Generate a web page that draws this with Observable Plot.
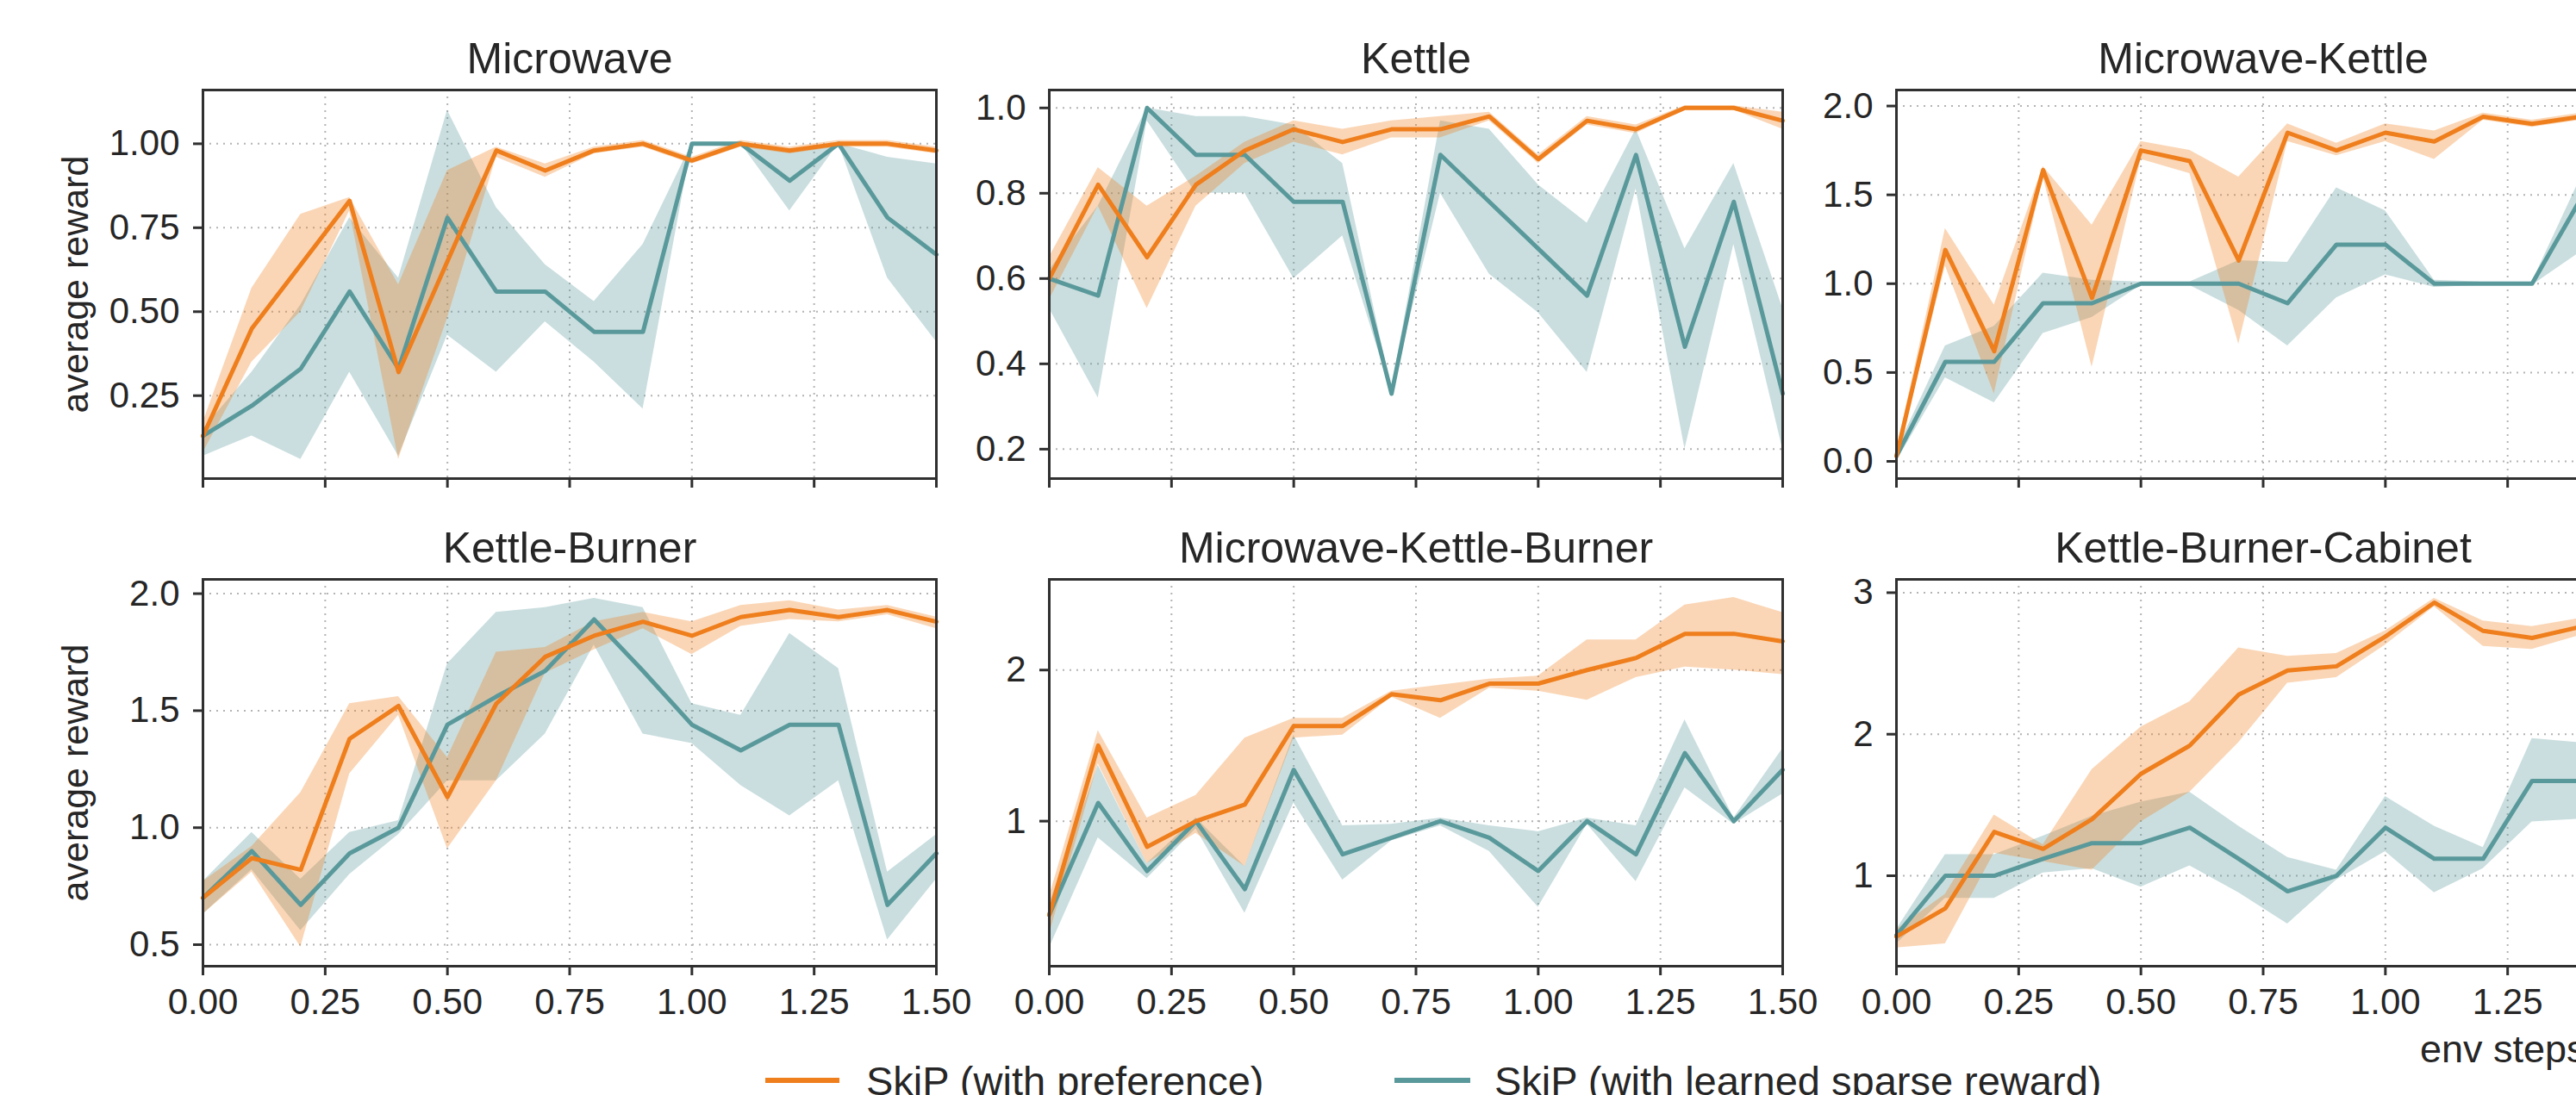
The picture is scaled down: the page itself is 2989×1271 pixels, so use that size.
<!DOCTYPE html>
<html>
<head>
<meta charset="utf-8">
<script src="https://cdn.jsdelivr.net/npm/d3@7"></script>
<script src="https://cdn.jsdelivr.net/npm/@observablehq/plot@0.6"></script>
<style>
  html, body { margin: 0; padding: 0; background: #fff; overflow: hidden; }
  #chart { position: relative; width: 2989px; height: 1271px; overflow: hidden; background: #fff;
           font-family: "Liberation Sans", Arial, sans-serif; color: #262626; }
  #chart svg { position: absolute; max-width: none; }
  .lab { position: absolute; white-space: nowrap; line-height: 1; font-family: "Liberation Sans", Arial, sans-serif; color: #262626; }
  .swatch { position: absolute; height: 6px; }
</style>
</head>
<body>
<div id="chart"></div>
<script>
// ---------- data ----------
const steps  = [0, 0.1, 0.2, 0.3, 0.4, 0.5, 0.6, 0.7, 0.8, 0.9, 1.0, 1.1, 1.2, 1.3, 1.4, 1.5];
const xTicks = [0, 0.25, 0.5, 0.75, 1.0, 1.25, 1.5];
const seriesNames = ["SkiP (with preference)", "SkiP (with learned sparse reward)"];
const titles = ["Microwave", "Kettle", "Microwave-Kettle", "Kettle-Burner", "Microwave-Kettle-Burner", "Kettle-Burner-Cabinet"];

// Microwave
const mwPref     = [0.13, 0.45, 0.64, 0.83, 0.32, 0.65, 0.98, 0.92, 0.98, 1.00, 0.95, 1.00, 0.98, 1.00, 1.00, 0.98];
const mwPrefLo   = [0.08, 0.35, 0.50, 0.80, 0.06, 0.48, 0.96, 0.90, 0.97, 0.99, 0.94, 0.99, 0.97, 0.99, 0.99, 0.97];
const mwPrefHi   = [0.17, 0.57, 0.79, 0.84, 0.58, 0.92, 0.99, 0.94, 0.99, 1.01, 0.96, 1.01, 0.99, 1.01, 1.01, 0.99];
const mwSparse   = [0.13, 0.22, 0.33, 0.56, 0.33, 0.78, 0.56, 0.56, 0.44, 0.44, 1.00, 1.00, 0.89, 1.00, 0.78, 0.67];
const mwSparseLo = [0.07, 0.13, 0.06, 0.32, 0.07, 0.43, 0.32, 0.47, 0.35, 0.21, 1.00, 1.00, 0.80, 1.00, 0.60, 0.41];
const mwSparseHi = [0.15, 0.32, 0.52, 0.78, 0.60, 1.10, 0.81, 0.64, 0.53, 0.70, 1.00, 1.00, 0.98, 1.00, 0.96, 0.94];

// Kettle
const kPref     = [0.60, 0.82, 0.65, 0.82, 0.90, 0.95, 0.92, 0.95, 0.95, 0.98, 0.88, 0.97, 0.95, 1.00, 1.00, 0.97];
const kPrefLo   = [0.55, 0.77, 0.53, 0.77, 0.87, 0.92, 0.89, 0.93, 0.93, 0.97, 0.87, 0.96, 0.94, 0.995, 0.995, 0.95];
const kPrefHi   = [0.65, 0.86, 0.77, 0.84, 0.92, 0.97, 0.95, 0.97, 0.98, 0.99, 0.89, 0.98, 0.96, 1.005, 1.005, 0.99];
const kSparse   = [0.60, 0.56, 1.00, 0.89, 0.89, 0.78, 0.78, 0.33, 0.89, 0.78, 0.67, 0.56, 0.89, 0.44, 0.78, 0.33];
const kSparseLo = [0.53, 0.32, 0.97, 0.80, 0.80, 0.60, 0.70, 0.33, 0.80, 0.61, 0.52, 0.38, 0.81, 0.20, 0.68, 0.20];
const kSparseHi = [0.62, 0.77, 1.00, 0.98, 0.98, 0.96, 0.87, 0.34, 0.97, 0.95, 0.82, 0.73, 0.95, 0.67, 0.87, 0.53];

// Microwave-Kettle
const mkPref     = [0.03, 1.19, 0.62, 1.64, 0.92, 1.75, 1.69, 1.13, 1.85, 1.75, 1.85, 1.80, 1.94, 1.90, 1.94, 1.93];
const mkPrefLo   = [0.00, 1.10, 0.38, 1.60, 0.53, 1.70, 1.62, 0.66, 1.80, 1.72, 1.80, 1.70, 1.92, 1.88, 1.92, 1.90];
const mkPrefHi   = [0.06, 1.31, 0.88, 1.66, 1.33, 1.80, 1.75, 1.60, 1.90, 1.79, 1.90, 1.86, 1.96, 1.92, 1.96, 1.96];
const mkSparse   = [0.03, 0.56, 0.56, 0.89, 0.89, 1.00, 1.00, 1.00, 0.89, 1.22, 1.22, 1.00, 1.00, 1.00, 1.48, 1.67];
const mkSparseLo = [0.00, 0.47, 0.33, 0.72, 0.81, 0.99, 0.99, 0.85, 0.65, 0.92, 1.05, 0.98, 0.99, 0.99, 1.18, 1.30];
const mkSparseHi = [0.06, 0.65, 0.76, 1.06, 1.02, 1.01, 1.01, 1.13, 1.12, 1.54, 1.41, 1.02, 1.01, 1.01, 1.60, 1.90];

// Kettle-Burner
const kbPref     = [0.70, 0.87, 0.82, 1.38, 1.52, 1.13, 1.53, 1.73, 1.82, 1.88, 1.82, 1.90, 1.93, 1.90, 1.93, 1.88];
const kbPrefLo   = [0.63, 0.81, 0.49, 1.23, 1.48, 0.91, 1.20, 1.66, 1.76, 1.85, 1.74, 1.86, 1.89, 1.88, 1.91, 1.85];
const kbPrefHi   = [0.77, 0.92, 1.15, 1.53, 1.56, 1.30, 1.75, 1.77, 1.88, 1.92, 1.88, 1.95, 1.97, 1.93, 1.95, 1.90];
const kbSparse   = [0.70, 0.90, 0.67, 0.89, 1.00, 1.44, 1.56, 1.67, 1.89, 1.67, 1.44, 1.33, 1.44, 1.44, 0.67, 0.89];
const kbSparseLo = [0.63, 0.82, 0.56, 0.80, 0.97, 1.20, 1.20, 1.40, 1.78, 1.40, 1.36, 1.18, 1.05, 1.20, 0.52, 0.78];
const kbSparseHi = [0.77, 0.98, 0.78, 0.98, 1.03, 1.70, 1.92, 1.94, 1.98, 1.94, 1.53, 1.48, 1.83, 1.68, 0.81, 0.97];

// Microwave-Kettle-Burner
const mkbPref     = [0.38, 1.50, 0.83, 1.00, 1.11, 1.63, 1.63, 1.84, 1.80, 1.91, 1.91, 2.00, 2.08, 2.24, 2.24, 2.19];
const mkbPrefLo   = [0.25, 1.38, 0.72, 0.92, 0.70, 1.55, 1.57, 1.82, 1.68, 1.88, 1.86, 1.80, 1.95, 2.02, 2.00, 1.97];
const mkbPrefHi   = [0.50, 1.60, 1.02, 1.17, 1.55, 1.68, 1.68, 1.86, 1.90, 1.94, 1.96, 2.20, 2.20, 2.43, 2.48, 2.38];
const mkbSparse   = [0.38, 1.12, 0.67, 1.00, 0.55, 1.34, 0.78, 0.89, 1.00, 0.89, 0.67, 1.00, 0.78, 1.45, 1.00, 1.34];
const mkbSparseLo = [0.16, 0.89, 0.62, 0.95, 0.39, 1.12, 0.61, 0.87, 0.97, 0.80, 0.43, 0.98, 0.60, 1.22, 0.98, 1.18];
const mkbSparseHi = [0.45, 1.37, 0.72, 1.02, 0.70, 1.57, 0.97, 0.98, 1.02, 0.97, 0.93, 1.02, 0.97, 1.67, 1.02, 1.48];

// Kettle-Burner-Cabinet
const kbcPref     = [0.57, 0.77, 1.31, 1.19, 1.40, 1.72, 1.92, 2.28, 2.45, 2.48, 2.69, 2.93, 2.73, 2.68, 2.76, 2.80];
const kbcPrefLo   = [0.49, 0.52, 1.16, 1.10, 1.04, 1.38, 1.59, 1.94, 2.36, 2.40, 2.63, 2.90, 2.62, 2.60, 2.70, 2.70];
const kbcPrefHi   = [0.62, 0.87, 1.43, 1.22, 1.75, 2.05, 2.23, 2.61, 2.55, 2.57, 2.73, 2.96, 2.80, 2.76, 2.82, 2.90];
const kbcSparse   = [0.58, 1.00, 1.00, 1.12, 1.23, 1.23, 1.34, 1.12, 0.89, 1.00, 1.34, 1.12, 1.12, 1.67, 1.67, 1.67];
const kbcSparseLo = [0.52, 0.84, 0.84, 1.02, 1.05, 0.92, 1.07, 0.88, 0.66, 0.97, 1.17, 0.88, 1.05, 1.38, 1.40, 1.40];
const kbcSparseHi = [0.62, 1.15, 1.15, 1.28, 1.42, 1.52, 1.59, 1.35, 1.13, 1.04, 1.56, 1.35, 1.20, 1.97, 1.94, 1.95];

// y tick values per panel
const mwYTicks  = [0.25, 0.5, 0.75, 1.0];
const kYTicks   = [0.2, 0.4, 0.6, 0.8, 1.0];
const mkYTicks  = [0, 0.5, 1.0, 1.5, 2.0];
const kbYTicks  = [0.5, 1.0, 1.5, 2.0];
const mkbYTicks = [1, 2];
const kbcYTicks = [1, 2, 3];

// ---------- styling / layout ----------
const ORANGE = "#ef7e1c";
const TEAL = "#5a999b";
const TEXT = "#262626";
const FONT = "'Liberation Sans', Arial, sans-serif";
const colX = [235, 1217, 2200];
const rowY = [104, 672];
const FW = 851;
const FH = [451, 449];
const ML = 235, MR = 20, MT = 104, MB = 90;

const panels = [
  {title: titles[0], p: mwPref, pl: mwPrefLo, ph: mwPrefHi, s: mwSparse, sl: mwSparseLo, sh: mwSparseHi, yDomain: [0.003, 1.16], yTicks: mwYTicks, fmt: ".2f", row: 0, col: 0},
  {title: titles[1], p: kPref, pl: kPrefLo, ph: kPrefHi, s: kSparse, sl: kSparseLo, sh: kSparseHi, yDomain: [0.131, 1.042], yTicks: kYTicks, fmt: ".1f", row: 0, col: 1},
  {title: titles[2], p: mkPref, pl: mkPrefLo, ph: mkPrefHi, s: mkSparse, sl: mkSparseLo, sh: mkSparseHi, yDomain: [-0.097, 2.09], yTicks: mkYTicks, fmt: ".1f", row: 0, col: 2},
  {title: titles[3], p: kbPref, pl: kbPrefLo, ph: kbPrefHi, s: kbSparse, sl: kbSparseLo, sh: kbSparseHi, yDomain: [0.408, 2.061], yTicks: kbYTicks, fmt: ".1f", row: 1, col: 0},
  {title: titles[4], p: mkbPref, pl: mkbPrefLo, ph: mkbPrefHi, s: mkbSparse, sl: mkbSparseLo, sh: mkbSparseHi, yDomain: [0.04, 2.60], yTicks: mkbYTicks, fmt: "d", row: 1, col: 1},
  {title: titles[5], p: kbcPref, pl: kbcPrefLo, ph: kbcPrefHi, s: kbcSparse, sl: kbcSparseLo, sh: kbcSparseHi, yDomain: [0.361, 3.094], yTicks: kbcYTicks, fmt: "d", row: 1, col: 2}
];

const chart = document.getElementById("chart");

for (const cfg of panels) {
  const data = steps.map((x, i) => ({x, p: cfg.p[i], pl: cfg.pl[i], ph: cfg.ph[i], s: cfg.s[i], sl: cfg.sl[i], sh: cfg.sh[i]}));
  const fh = FH[cfg.row];
  const showXLabels = cfg.row === 1;
  const marks = [
    Plot.gridX({ticks: xTicks.slice(1, -1), stroke: "#b4b4b4", strokeOpacity: 1, strokeWidth: 2, strokeDasharray: "2,6"}),
    Plot.gridY({ticks: cfg.yTicks, stroke: "#b4b4b4", strokeOpacity: 1, strokeWidth: 2, strokeDasharray: "2,6"}),
    Plot.areaY(data, {x: "x", y1: "sl", y2: "sh", fill: TEAL, fillOpacity: 0.32}),
    Plot.areaY(data, {x: "x", y1: "pl", y2: "ph", fill: ORANGE, fillOpacity: 0.32}),
    Plot.lineY(data, {x: "x", y: "s", stroke: TEAL, strokeWidth: 5}),
    Plot.lineY(data, {x: "x", y: "p", stroke: ORANGE, strokeWidth: 5}),
    Plot.frame({stroke: "#303030", strokeWidth: 3}),
    Plot.axisX({ticks: xTicks, tickSize: 11, tickPadding: 15, strokeWidth: 3, stroke: "#303030",
                fontSize: 42, fill: TEXT, label: null,
                tickFormat: showXLabels ? d3.format(".2f") : () => ""}),
    Plot.axisY({ticks: cfg.yTicks, tickSize: 11, tickPadding: 16, strokeWidth: 3, stroke: "#303030",
                fontSize: 42, fill: TEXT, label: null, tickFormat: d3.format(cfg.fmt)}),
    Plot.text([cfg.title], {text: d => d, frameAnchor: "top", dy: -20, lineAnchor: "bottom", fontSize: 50, fill: TEXT})
  ];
  if (cfg.col === 0) {
    marks.push(Plot.text(["average reward"], {text: d => d, frameAnchor: "left", dx: -147, rotate: -90,
      textAnchor: "middle", lineAnchor: "middle", fontSize: 43, fill: TEXT}));
  }
  const svg = Plot.plot({
    width: ML + FW + MR,
    height: MT + fh + MB,
    marginLeft: ML, marginRight: MR, marginTop: MT, marginBottom: MB,
    style: {background: "transparent", overflow: "visible", fontFamily: FONT, color: TEXT},
    x: {domain: [0, 1.5]},
    y: {domain: cfg.yDomain},
    marks
  });
  svg.style.left = (colX[cfg.col] - ML) + "px";
  svg.style.top = (rowY[cfg.row] - MT) + "px";
  chart.appendChild(svg);
}

// x label (cut by the right edge as in the reference)
const xl = document.createElement("div");
xl.className = "lab";
xl.style.cssText = "left:2808px; top:1195px; font-size:45px;";
xl.textContent = "env steps";
chart.appendChild(xl);

// legend
const legend = [
  {name: seriesNames[0], color: ORANGE, x0: 888, x1: 974, tx: 1005},
  {name: seriesNames[1], color: TEAL, x0: 1618, x1: 1706, tx: 1734}
];
for (const l of legend) {
  const sw = document.createElement("div");
  sw.className = "swatch";
  sw.style.cssText = `left:${l.x0}px; top:1251px; width:${l.x1 - l.x0}px; background:${l.color};`;
  chart.appendChild(sw);
  const t = document.createElement("div");
  t.className = "lab";
  t.style.cssText = `left:${l.tx}px; top:1231px; font-size:47px;`;
  t.textContent = l.name;
  chart.appendChild(t);
}
</script>
</body>
</html>
